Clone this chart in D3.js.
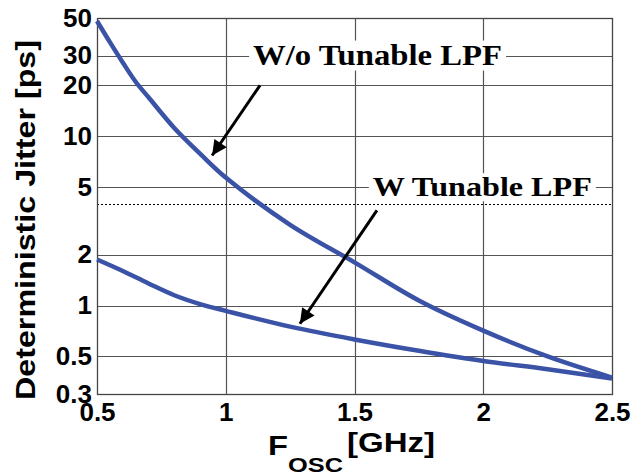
<!DOCTYPE html>
<html>
<head>
<meta charset="utf-8">
<script src="https://cdn.jsdelivr.net/npm/d3@7"></script>
<style>
  body { margin: 0; background: #fff; }
</style>
</head>
<body>
<div id="chart"></div>
<script>
// data
var freqsNoLpf = [0.5, 0.55, 0.6, 0.65, 0.7, 0.8, 0.9, 1.0, 1.25, 1.5, 1.75, 2.0, 2.25, 2.5];
var jitterNoLpf = [48, 36, 27.3, 21, 17, 11.2, 7.9, 5.7, 3.0, 1.8, 1.07, 0.71, 0.5, 0.375];
var freqsLpf = [0.5, 0.6, 0.7, 0.8, 0.9, 1.0, 1.25, 1.5, 1.75, 2.0, 2.25, 2.5];
var jitterLpf = [1.87, 1.6, 1.35, 1.15, 1.02, 0.93, 0.75, 0.63, 0.54, 0.47, 0.42, 0.37];
var yTicks = [0.3, 0.5, 1, 2, 5, 10, 20, 30, 50];
var yGrid = [0.5, 1, 2, 5, 10, 20, 30];
var xTicks = [0.5, 1, 1.5, 2, 2.5];
var xGrid = [1, 1.5, 2];
var dottedLevel = 4;

var W = 636, H = 476;
var plotL = 97, plotR = 612, plotT = 18, plotB = 394;

var svg = d3.select("#chart")
    .append("svg")
    .attr("width", W)
    .attr("height", H);

var x = d3.scaleLinear().domain([0.5, 2.5]).range([plotL, plotR]);
var y = d3.scaleLog().domain([0.3, 50]).range([plotB, plotT]);

// grid
svg.append("g").selectAll("line")
    .data(yGrid).enter().append("line")
    .attr("x1", plotL).attr("x2", plotR)
    .attr("y1", function(d) { return Math.round(y(d)) + 0.5; })
    .attr("y2", function(d) { return Math.round(y(d)) + 0.5; })
    .attr("stroke", "#555").attr("stroke-width", 1.2);

svg.append("g").selectAll("line")
    .data(xGrid).enter().append("line")
    .attr("x1", function(d) { return Math.round(x(d)) + 0.5; })
    .attr("x2", function(d) { return Math.round(x(d)) + 0.5; })
    .attr("y1", plotT).attr("y2", plotB)
    .attr("stroke", "#555").attr("stroke-width", 1.2);

// dotted level
svg.append("line")
    .attr("x1", plotL).attr("x2", plotR)
    .attr("y1", Math.round(y(dottedLevel)) + 0.5)
    .attr("y2", Math.round(y(dottedLevel)) + 0.5)
    .attr("stroke", "#000").attr("stroke-width", 1)
    .attr("stroke-dasharray", "2,2");

// frame
svg.append("rect")
    .attr("x", plotL + 0.5).attr("y", plotT + 0.5)
    .attr("width", plotR - plotL).attr("height", plotB - plotT)
    .attr("fill", "none").attr("stroke", "#444").attr("stroke-width", 1.3);

// axes
var yAxis = d3.axisLeft(y).tickValues(yTicks).tickSize(0).tickPadding(5)
    .tickFormat(function(d) { return String(d); });
var gy = svg.append("g").attr("transform", "translate(" + plotL + ",0)").call(yAxis);
gy.select(".domain").remove();
gy.selectAll("text")
    .attr("font-family", "Liberation Sans, Arial, sans-serif")
    .attr("font-weight", "bold").attr("font-size", 26).attr("fill", "#000");

var xAxis = d3.axisBottom(x).tickValues(xTicks).tickSize(0).tickPadding(9)
    .tickFormat(function(d) { return String(d); });
var gx = svg.append("g").attr("transform", "translate(0," + plotB + ")").call(xAxis);
gx.select(".domain").remove();
gx.selectAll("text")
    .attr("font-family", "Liberation Sans, Arial, sans-serif")
    .attr("font-weight", "bold").attr("font-size", 26).attr("fill", "#000");

// curves
var line = d3.line()
    .x(function(d) { return x(d[0]); })
    .y(function(d) { return y(d[1]); })
    .curve(d3.curveCatmullRom.alpha(0.5));

[[freqsNoLpf, jitterNoLpf], [freqsLpf, jitterLpf]].forEach(function(s) {
    svg.append("path")
        .datum(s[0].map(function(f, i) { return [f, s[1][i]]; }))
        .attr("d", line)
        .attr("fill", "none")
        .attr("stroke", "#3a53a6")
        .attr("stroke-width", 4.5)
        .attr("stroke-linejoin", "round");
});

// annotation labels (white box hides the grid behind)
function label(txt, fx, level, len, size) {
    var g = svg.append("g");
    var base = y(level) + size * 0.33;
    g.append("rect")
        .attr("x", x(fx) - 4).attr("y", y(level) - size * 0.5)
        .attr("width", len + 8).attr("height", size)
        .attr("fill", "#fff");
    g.append("text")
        .attr("x", x(fx)).attr("y", base)
        .attr("font-family", "Liberation Serif, Times New Roman, serif")
        .attr("font-weight", "bold").attr("font-size", size)
        .attr("textLength", len).attr("lengthAdjust", "spacingAndGlyphs")
        .text(txt);
}
label("W/o Tunable LPF", 1.106, 30, 249, 30);
label("W Tunable LPF", 1.571, 5, 219, 28);

// arrows
svg.append("defs").append("marker")
    .attr("id", "head")
    .attr("viewBox", "0 0 10 10")
    .attr("refX", 10).attr("refY", 5)
    .attr("markerWidth", 6).attr("markerHeight", 5)
    .attr("markerUnits", "strokeWidth")
    .attr("orient", "auto")
    .append("path").attr("d", "M0,0 L10,5 L0,10 Z").attr("fill", "#000");

var arrows = [
    [[1.133, 20], [0.947, 7.7]],
    [[1.587, 3.65], [1.288, 0.78]]
];
arrows.forEach(function(a) {
    svg.append("line")
        .attr("x1", x(a[0][0])).attr("y1", y(a[0][1]))
        .attr("x2", x(a[1][0])).attr("y2", y(a[1][1]))
        .attr("stroke", "#000").attr("stroke-width", 3)
        .attr("marker-end", "url(#head)");
});

// axis titles
svg.append("text")
    .attr("transform", "translate(35,220) rotate(-90)")
    .attr("text-anchor", "middle")
    .attr("font-family", "Liberation Sans, Arial, sans-serif")
    .attr("font-weight", "bold").attr("font-size", 28)
    .attr("textLength", 360).attr("lengthAdjust", "spacingAndGlyphs")
    .text("Deterministic Jitter [ps]");

var xt = svg.append("g")
    .attr("font-family", "Liberation Sans, Arial, sans-serif")
    .attr("font-weight", "bold").attr("fill", "#000");
xt.append("text").attr("x", 268).attr("y", 455).attr("font-size", 28)
    .attr("textLength", 20).attr("lengthAdjust", "spacingAndGlyphs").text("F");
xt.append("text").attr("x", 288).attr("y", 472).attr("font-size", 21)
    .attr("textLength", 55).attr("lengthAdjust", "spacingAndGlyphs").text("OSC");
xt.append("text").attr("x", 347).attr("y", 452).attr("font-size", 28)
    .attr("textLength", 88).attr("lengthAdjust", "spacingAndGlyphs").text("[GHz]");
</script>
</body>
</html>
